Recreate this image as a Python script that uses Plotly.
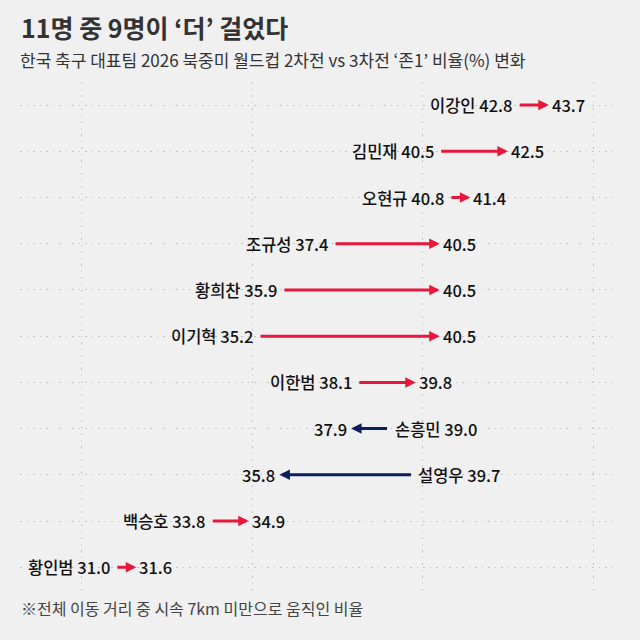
import plotly.graph_objects as go

names = ["이강인", "김민재", "오현규", "조규성", "황희찬", "이기혁", "이한범", "손흥민", "설영우", "백승호", "황인범"]
match2 = [42.8, 40.5, 40.8, 37.4, 35.9, 35.2, 38.1, 39.0, 39.7, 33.8, 31.0]
match3 = [43.7, 42.5, 41.4, 40.5, 40.5, 40.5, 39.8, 37.9, 35.8, 34.9, 31.6]
grid_x = [30, 35, 40, 45]

title = "11명 중 9명이 ‘더’ 걸었다"
subtitle = "한국 축구 대표팀 2026 북중미 월드컵 2차전 vs 3차전 ‘존1’ 비율(%) 변화"
footnote = "※전체 이동 거리 중 시속 7km 미만으로 움직인 비율"

RED = "#e8173c"
NAVY = "#0b1f5c"
FONT = "Noto Sans CJK KR"

idx = list(range(len(names)))

fig = go.Figure()
fig.add_trace(go.Scatter(x=match2 + match3, y=idx + idx, mode="markers",
                         marker=dict(opacity=0), hoverinfo="skip", showlegend=False))

annotations = []
for i, (n, a, b) in enumerate(zip(names, match2, match3)):
    up = b >= a
    col = RED if up else NAVY
    annotations.append(dict(x=b, y=i, ax=a, ay=i, xref="x", yref="y", axref="x", ayref="y",
                            text="", showarrow=True, arrowhead=2, arrowsize=0.7,
                            arrowwidth=3, arrowcolor=col, standoff=0, startstandoff=0))
    annotations.append(dict(x=a, y=i, xref="x", yref="y", text=f"{n} {a:.1f}", showarrow=False,
                            xanchor="right" if up else "left", xshift=-4 if up else 4,
                            yanchor="middle",
                            font=dict(family=FONT, size=16.5, color="#111111", weight=500)))
    annotations.append(dict(x=b, y=i, xref="x", yref="y", text=f"{b:.1f}", showarrow=False,
                            xanchor="left" if up else "right", xshift=1 if up else -2,
                            yanchor="middle",
                            font=dict(family=FONT, size=16.5, color="#111111", weight=500)))

annotations.append(dict(x=0, y=1.108, xref="paper", yref="paper", xanchor="left", yanchor="middle",
                        text=title, showarrow=False, xshift=-1,
                        font=dict(family=FONT, size=25, color="#333333", weight=700)))
annotations.append(dict(x=0, y=1.043, xref="paper", yref="paper", xanchor="left", yanchor="middle",
                        text=subtitle, showarrow=False, xshift=-2,
                        font=dict(family=FONT, size=17, color="#333333")))
annotations.append(dict(x=0, y=-0.025, xref="paper", yref="paper", xanchor="left", yanchor="middle",
                        text=footnote, showarrow=False, xshift=-1,
                        font=dict(family=FONT, size=16, color="#444444")))

fig.update_layout(
    width=640, height=640,
    margin=dict(l=20, r=22, t=82, b=45),
    paper_bgcolor="#f0f0f0", plot_bgcolor="#f0f0f0",
    annotations=annotations,
    xaxis=dict(range=[28.19, 45.73], tickvals=grid_x, showticklabels=False, showgrid=True,
               gridcolor="#c4c4c4", gridwidth=1, griddash="1.5px,5px", zeroline=False,
               showline=False, fixedrange=True),
    yaxis=dict(range=[10.6, -0.5], tickvals=idx, showticklabels=False, showgrid=True,
               gridcolor="#c4c4c4", gridwidth=1, griddash="1.5px,5px", zeroline=False,
               showline=False, fixedrange=True),
    showlegend=False,
)

fig.write_html("out.html")
